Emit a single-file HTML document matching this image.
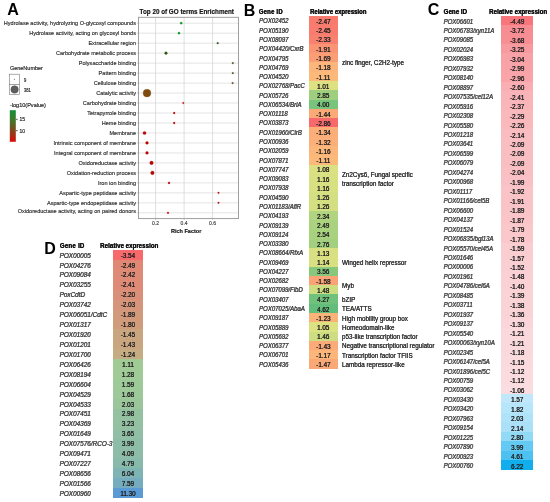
<!DOCTYPE html><html><head><meta charset="utf-8"><style>
html,body{margin:0;padding:0;background:#fff;}
body{width:550px;height:502px;position:relative;overflow:hidden;font-family:"Liberation Sans", sans-serif;filter:blur(0.3px);}
.a{position:absolute;white-space:nowrap;}
.t{-webkit-text-stroke:0.12px currentColor;transform:scaleY(1.08);transform-origin:50% 55%;text-shadow:0.25px 0 0 currentColor;}
.u{-webkit-text-stroke:0.16px currentColor;}
.g{-webkit-text-stroke:0.12px currentColor;text-shadow:0.35px 0 0 currentColor;}
.n{text-shadow:0.12px 0 0 currentColor;}
.lab{position:absolute;font-weight:bold;font-size:16px;line-height:1;color:#000;}
</style></head><body>
<div class="lab" style="left:7.30px;top:1.80px">A</div>
<div class="lab" style="left:243.70px;top:3.25px">B</div>
<div class="lab" style="left:427.80px;top:1.95px">C</div>
<div class="lab" style="left:44.20px;top:240.85px">D</div>
<svg class="a" style="left:0;top:0" width="550" height="502" viewBox="0 0 550 502"><line x1="138.50" y1="23.20" x2="238.50" y2="23.20" stroke="#DDDDDD" stroke-width="0.80"/><line x1="138.50" y1="33.18" x2="238.50" y2="33.18" stroke="#DDDDDD" stroke-width="0.80"/><line x1="138.50" y1="43.16" x2="238.50" y2="43.16" stroke="#DDDDDD" stroke-width="0.80"/><line x1="138.50" y1="53.14" x2="238.50" y2="53.14" stroke="#DDDDDD" stroke-width="0.80"/><line x1="138.50" y1="63.12" x2="238.50" y2="63.12" stroke="#DDDDDD" stroke-width="0.80"/><line x1="138.50" y1="73.10" x2="238.50" y2="73.10" stroke="#DDDDDD" stroke-width="0.80"/><line x1="138.50" y1="83.08" x2="238.50" y2="83.08" stroke="#DDDDDD" stroke-width="0.80"/><line x1="138.50" y1="93.06" x2="238.50" y2="93.06" stroke="#DDDDDD" stroke-width="0.80"/><line x1="138.50" y1="103.04" x2="238.50" y2="103.04" stroke="#DDDDDD" stroke-width="0.80"/><line x1="138.50" y1="113.02" x2="238.50" y2="113.02" stroke="#DDDDDD" stroke-width="0.80"/><line x1="138.50" y1="123.00" x2="238.50" y2="123.00" stroke="#DDDDDD" stroke-width="0.80"/><line x1="138.50" y1="132.98" x2="238.50" y2="132.98" stroke="#DDDDDD" stroke-width="0.80"/><line x1="138.50" y1="142.96" x2="238.50" y2="142.96" stroke="#DDDDDD" stroke-width="0.80"/><line x1="138.50" y1="152.94" x2="238.50" y2="152.94" stroke="#DDDDDD" stroke-width="0.80"/><line x1="138.50" y1="162.92" x2="238.50" y2="162.92" stroke="#DDDDDD" stroke-width="0.80"/><line x1="138.50" y1="172.90" x2="238.50" y2="172.90" stroke="#DDDDDD" stroke-width="0.80"/><line x1="138.50" y1="182.88" x2="238.50" y2="182.88" stroke="#DDDDDD" stroke-width="0.80"/><line x1="138.50" y1="192.86" x2="238.50" y2="192.86" stroke="#DDDDDD" stroke-width="0.80"/><line x1="138.50" y1="202.84" x2="238.50" y2="202.84" stroke="#DDDDDD" stroke-width="0.80"/><line x1="138.50" y1="212.82" x2="238.50" y2="212.82" stroke="#DDDDDD" stroke-width="0.80"/><line x1="155.60" y1="17.30" x2="155.60" y2="218.60" stroke="#D5D5D5" stroke-width="0.80"/><line x1="184.10" y1="17.30" x2="184.10" y2="218.60" stroke="#D5D5D5" stroke-width="0.80"/><line x1="212.60" y1="17.30" x2="212.60" y2="218.60" stroke="#D5D5D5" stroke-width="0.80"/><rect x="138.50" y="17.30" width="100.00" height="201.30" fill="none" stroke="#959595" stroke-width="0.90"/><line x1="136.90" y1="23.20" x2="138.50" y2="23.20" stroke="#999" stroke-width="0.5"/><line x1="136.90" y1="33.18" x2="138.50" y2="33.18" stroke="#999" stroke-width="0.5"/><line x1="136.90" y1="43.16" x2="138.50" y2="43.16" stroke="#999" stroke-width="0.5"/><line x1="136.90" y1="53.14" x2="138.50" y2="53.14" stroke="#999" stroke-width="0.5"/><line x1="136.90" y1="63.12" x2="138.50" y2="63.12" stroke="#999" stroke-width="0.5"/><line x1="136.90" y1="73.10" x2="138.50" y2="73.10" stroke="#999" stroke-width="0.5"/><line x1="136.90" y1="83.08" x2="138.50" y2="83.08" stroke="#999" stroke-width="0.5"/><line x1="136.90" y1="93.06" x2="138.50" y2="93.06" stroke="#999" stroke-width="0.5"/><line x1="136.90" y1="103.04" x2="138.50" y2="103.04" stroke="#999" stroke-width="0.5"/><line x1="136.90" y1="113.02" x2="138.50" y2="113.02" stroke="#999" stroke-width="0.5"/><line x1="136.90" y1="123.00" x2="138.50" y2="123.00" stroke="#999" stroke-width="0.5"/><line x1="136.90" y1="132.98" x2="138.50" y2="132.98" stroke="#999" stroke-width="0.5"/><line x1="136.90" y1="142.96" x2="138.50" y2="142.96" stroke="#999" stroke-width="0.5"/><line x1="136.90" y1="152.94" x2="138.50" y2="152.94" stroke="#999" stroke-width="0.5"/><line x1="136.90" y1="162.92" x2="138.50" y2="162.92" stroke="#999" stroke-width="0.5"/><line x1="136.90" y1="172.90" x2="138.50" y2="172.90" stroke="#999" stroke-width="0.5"/><line x1="136.90" y1="182.88" x2="138.50" y2="182.88" stroke="#999" stroke-width="0.5"/><line x1="136.90" y1="192.86" x2="138.50" y2="192.86" stroke="#999" stroke-width="0.5"/><line x1="136.90" y1="202.84" x2="138.50" y2="202.84" stroke="#999" stroke-width="0.5"/><line x1="136.90" y1="212.82" x2="138.50" y2="212.82" stroke="#999" stroke-width="0.5"/><line x1="155.60" y1="218.60" x2="155.60" y2="220.20" stroke="#999" stroke-width="0.5"/><line x1="184.10" y1="218.60" x2="184.10" y2="220.20" stroke="#999" stroke-width="0.5"/><line x1="212.60" y1="218.60" x2="212.60" y2="220.20" stroke="#999" stroke-width="0.5"/><circle cx="181.20" cy="23.20" r="1.12" fill="#109A2A" stroke="#109A2A" stroke-width="0.3"/><circle cx="179.00" cy="33.18" r="1.12" fill="#109A2A" stroke="#109A2A" stroke-width="0.3"/><circle cx="217.70" cy="43.16" r="0.90" fill="#2E5E12" stroke="#2E5E12" stroke-width="0.3"/><circle cx="166.00" cy="53.14" r="1.35" fill="#2F5A12" stroke="#2F5A12" stroke-width="0.3"/><circle cx="232.80" cy="63.12" r="0.85" fill="#3E5A18" stroke="#3E5A18" stroke-width="0.3"/><circle cx="232.80" cy="73.10" r="0.85" fill="#3E5A18" stroke="#3E5A18" stroke-width="0.3"/><circle cx="232.60" cy="83.08" r="0.85" fill="#6E4A1A" stroke="#6E4A1A" stroke-width="0.3"/><circle cx="147.00" cy="93.06" r="3.90" fill="#7D4B0F" stroke="#7D4B0F" stroke-width="0.3"/><circle cx="183.30" cy="103.04" r="0.80" fill="#B80505" stroke="#B80505" stroke-width="0.3"/><circle cx="174.20" cy="113.02" r="0.95" fill="#B80505" stroke="#B80505" stroke-width="0.3"/><circle cx="174.20" cy="123.00" r="0.95" fill="#B80505" stroke="#B80505" stroke-width="0.3"/><circle cx="144.50" cy="132.98" r="1.60" fill="#B80505" stroke="#B80505" stroke-width="0.3"/><circle cx="147.00" cy="142.96" r="1.40" fill="#B80505" stroke="#B80505" stroke-width="0.3"/><circle cx="147.00" cy="152.94" r="1.40" fill="#B80505" stroke="#B80505" stroke-width="0.3"/><circle cx="151.50" cy="162.92" r="1.80" fill="#B80505" stroke="#B80505" stroke-width="0.3"/><circle cx="152.40" cy="172.90" r="1.80" fill="#B80505" stroke="#B80505" stroke-width="0.3"/><circle cx="169.00" cy="182.88" r="1.00" fill="#B80505" stroke="#B80505" stroke-width="0.3"/><circle cx="218.50" cy="192.86" r="0.80" fill="#B80505" stroke="#B80505" stroke-width="0.3"/><circle cx="218.50" cy="202.84" r="0.80" fill="#B80505" stroke="#B80505" stroke-width="0.3"/><circle cx="168.00" cy="212.82" r="0.90" fill="#B80505" stroke="#B80505" stroke-width="0.3"/><rect x="9.30" y="74.20" width="10.20" height="10.20" fill="#fff" stroke="#777" stroke-width="0.6"/><rect x="9.30" y="84.40" width="10.20" height="10.20" fill="#fff" stroke="#777" stroke-width="0.6"/><circle cx="14.40" cy="79.30" r="0.55" fill="#555"/><circle cx="14.60" cy="89.50" r="3.75" fill="#5E5E5E" stroke="#454545" stroke-width="0.4"/><defs><linearGradient id="cb" x1="0" y1="0" x2="0" y2="1"><stop offset="0.000" stop-color="#14903A"/><stop offset="0.300" stop-color="#3F7A2A"/><stop offset="0.550" stop-color="#6E5522"/><stop offset="0.800" stop-color="#A82E14"/><stop offset="1.000" stop-color="#DC0A0A"/></linearGradient></defs><rect x="9.80" y="110.20" width="6.00" height="31.60" fill="url(#cb)"/><line x1="16.00" y1="119.30" x2="17.60" y2="119.30" stroke="#444" stroke-width="0.9"/><line x1="16.00" y1="130.70" x2="17.60" y2="130.70" stroke="#444" stroke-width="0.9"/></svg>
<div class="a u" style="right:414.00px;top:18.20px;font-size:5.57px;line-height:10.00px;color:#303030">Hydrolase activity, hydrolyzing O-glycosyl compounds</div>
<div class="a u" style="right:414.00px;top:28.18px;font-size:5.57px;line-height:10.00px;color:#303030">Hydrolase activity, acting on glycosyl bonds</div>
<div class="a u" style="right:414.00px;top:38.16px;font-size:5.57px;line-height:10.00px;color:#303030">Extracellular region</div>
<div class="a u" style="right:414.00px;top:48.14px;font-size:5.57px;line-height:10.00px;color:#303030">Carbohydrate metabolic process</div>
<div class="a u" style="right:414.00px;top:58.12px;font-size:5.57px;line-height:10.00px;color:#303030">Polysaccharide binding</div>
<div class="a u" style="right:414.00px;top:68.10px;font-size:5.57px;line-height:10.00px;color:#303030">Pattern binding</div>
<div class="a u" style="right:414.00px;top:78.08px;font-size:5.57px;line-height:10.00px;color:#303030">Cellulose binding</div>
<div class="a u" style="right:414.00px;top:88.06px;font-size:5.57px;line-height:10.00px;color:#303030">Catalytic activity</div>
<div class="a u" style="right:414.00px;top:98.04px;font-size:5.57px;line-height:10.00px;color:#303030">Carbohydrate binding</div>
<div class="a u" style="right:414.00px;top:108.02px;font-size:5.57px;line-height:10.00px;color:#303030">Tetrapyrrole binding</div>
<div class="a u" style="right:414.00px;top:118.00px;font-size:5.57px;line-height:10.00px;color:#303030">Heme binding</div>
<div class="a u" style="right:414.00px;top:127.98px;font-size:5.57px;line-height:10.00px;color:#303030">Membrane</div>
<div class="a u" style="right:414.00px;top:137.96px;font-size:5.57px;line-height:10.00px;color:#303030">Intrinsic component of membrane</div>
<div class="a u" style="right:414.00px;top:147.94px;font-size:5.57px;line-height:10.00px;color:#303030">Integral component of membrane</div>
<div class="a u" style="right:414.00px;top:157.92px;font-size:5.57px;line-height:10.00px;color:#303030">Oxidoreductase activity</div>
<div class="a u" style="right:414.00px;top:167.90px;font-size:5.57px;line-height:10.00px;color:#303030">Oxidation-reduction process</div>
<div class="a u" style="right:414.00px;top:177.88px;font-size:5.57px;line-height:10.00px;color:#303030">Iron ion binding</div>
<div class="a u" style="right:414.00px;top:187.86px;font-size:5.57px;line-height:10.00px;color:#303030">Aspartic-type peptidase activity</div>
<div class="a u" style="right:414.00px;top:197.84px;font-size:5.57px;line-height:10.00px;color:#303030">Aspartic-type endopeptidase activity</div>
<div class="a u" style="right:414.00px;top:206.02px;font-size:5.57px;line-height:10.00px;color:#303030">Oxidoreductase activity, acting on paired donors</div>
<div class="a u" style="left:139.60px;top:9.30px;font-size:6.30px;line-height:1;font-weight:bold;color:#111">Top 20 of GO terms Enrichment</div>
<div class="a u" style="left:145.60px;top:220.90px;width:20px;text-align:center;font-size:5.00px;line-height:1;color:#444">0.2</div>
<div class="a u" style="left:174.10px;top:220.90px;width:20px;text-align:center;font-size:5.00px;line-height:1;color:#444">0.4</div>
<div class="a u" style="left:202.60px;top:220.90px;width:20px;text-align:center;font-size:5.00px;line-height:1;color:#444">0.6</div>
<div class="a u" style="left:156.20px;top:229.30px;width:60px;text-align:center;font-size:5.50px;line-height:1;font-weight:bold;color:#111">Rich Factor</div>
<div class="a u" style="left:9.90px;top:66.10px;font-size:5.50px;line-height:1;color:#222;transform:scaleX(1);transform-origin:0 0">GeneNumber</div>
<div class="a u" style="left:23.60px;top:77.90px;font-size:5.20px;line-height:1;color:#222;transform:scaleX(0.8);transform-origin:0 0">9</div>
<div class="a u" style="left:23.60px;top:87.90px;font-size:5.20px;line-height:1;color:#222;transform:scaleX(0.8);transform-origin:0 0">381</div>
<div class="a u" style="left:9.90px;top:102.50px;font-size:5.55px;line-height:1;color:#222;transform:scaleX(1);transform-origin:0 0">-log10(Pvalue)</div>
<div class="a u" style="left:19.40px;top:117.30px;font-size:5.00px;line-height:1;color:#222;transform:scaleX(1);transform-origin:0 0">15</div>
<div class="a u" style="left:19.40px;top:128.70px;font-size:5.00px;line-height:1;color:#222;transform:scaleX(1);transform-origin:0 0">10</div>
<div class="a t" style="left:258.70px;top:8.85px;font-size:6.00px;line-height:1;font-weight:bold;color:#111;letter-spacing:0.2px">Gene ID</div>
<div class="a t" style="left:310.00px;top:8.85px;font-size:6.00px;line-height:1;font-weight:bold;color:#111">Relative expression</div>
<div class="a" style="left:308.70px;top:16.05px;width:29.10px;height:9.88px;background:#F97B6E"></div>
<div class="a" style="left:308.70px;top:25.33px;width:29.10px;height:9.88px;background:#F97C6F"></div>
<div class="a" style="left:308.70px;top:34.61px;width:29.10px;height:9.88px;background:#F98170"></div>
<div class="a" style="left:308.70px;top:43.88px;width:29.10px;height:9.88px;background:#FA9473"></div>
<div class="a" style="left:308.70px;top:53.16px;width:29.10px;height:9.88px;background:#FB9E75"></div>
<div class="a" style="left:308.70px;top:62.44px;width:29.10px;height:9.88px;background:#FCB57A"></div>
<div class="a" style="left:308.70px;top:71.72px;width:29.10px;height:9.88px;background:#FCB97A"></div>
<div class="a" style="left:308.70px;top:81.00px;width:29.10px;height:9.88px;background:#DDE182"></div>
<div class="a" style="left:308.70px;top:90.27px;width:29.10px;height:9.88px;background:#9FCF7E"></div>
<div class="a" style="left:308.70px;top:99.55px;width:29.10px;height:9.88px;background:#78C47C"></div>
<div class="a" style="left:308.70px;top:108.83px;width:29.10px;height:9.88px;background:#FBAA77"></div>
<div class="a" style="left:308.70px;top:118.11px;width:29.10px;height:9.88px;background:#F8696B"></div>
<div class="a" style="left:308.70px;top:127.39px;width:29.10px;height:9.88px;background:#FCAE78"></div>
<div class="a" style="left:308.70px;top:136.66px;width:29.10px;height:9.88px;background:#FCAF78"></div>
<div class="a" style="left:308.70px;top:145.94px;width:29.10px;height:9.88px;background:#FCB67A"></div>
<div class="a" style="left:308.70px;top:155.22px;width:29.10px;height:9.88px;background:#FCB97A"></div>
<div class="a" style="left:308.70px;top:164.50px;width:29.10px;height:9.88px;background:#DBE082"></div>
<div class="a" style="left:308.70px;top:173.78px;width:29.10px;height:9.88px;background:#D8E082"></div>
<div class="a" style="left:308.70px;top:183.05px;width:29.10px;height:9.88px;background:#D8E082"></div>
<div class="a" style="left:308.70px;top:192.33px;width:29.10px;height:9.88px;background:#D4DF82"></div>
<div class="a" style="left:308.70px;top:201.61px;width:29.10px;height:9.88px;background:#D4DF82"></div>
<div class="a" style="left:308.70px;top:210.89px;width:29.10px;height:9.88px;background:#B0D47F"></div>
<div class="a" style="left:308.70px;top:220.17px;width:29.10px;height:9.88px;background:#ABD37F"></div>
<div class="a" style="left:308.70px;top:229.44px;width:29.10px;height:9.88px;background:#A9D27F"></div>
<div class="a" style="left:308.70px;top:238.72px;width:29.10px;height:9.88px;background:#A2D07F"></div>
<div class="a" style="left:308.70px;top:248.00px;width:29.10px;height:9.88px;background:#D9E082"></div>
<div class="a" style="left:308.70px;top:257.28px;width:29.10px;height:9.88px;background:#D9E082"></div>
<div class="a" style="left:308.70px;top:266.56px;width:29.10px;height:9.88px;background:#87C87D"></div>
<div class="a" style="left:308.70px;top:275.83px;width:29.10px;height:9.88px;background:#FBA376"></div>
<div class="a" style="left:308.70px;top:285.11px;width:29.10px;height:9.88px;background:#CDDD81"></div>
<div class="a" style="left:308.70px;top:294.39px;width:29.10px;height:9.88px;background:#6FC17C"></div>
<div class="a" style="left:308.70px;top:303.67px;width:29.10px;height:9.88px;background:#63BE7B"></div>
<div class="a" style="left:308.70px;top:312.95px;width:29.10px;height:9.88px;background:#FCB379"></div>
<div class="a" style="left:308.70px;top:322.22px;width:29.10px;height:9.88px;background:#DCE182"></div>
<div class="a" style="left:308.70px;top:331.50px;width:29.10px;height:9.88px;background:#CEDD81"></div>
<div class="a" style="left:308.70px;top:340.78px;width:29.10px;height:9.88px;background:#FCAA78"></div>
<div class="a" style="left:308.70px;top:350.06px;width:29.10px;height:9.88px;background:#FCB67A"></div>
<div class="a" style="left:308.70px;top:359.34px;width:29.10px;height:9.28px;background:#FBA877"></div>
<div class="a t g" style="left:259.00px;top:17.40px;height:9.28px;line-height:9.28px;font-size:6.00px;font-style:italic;color:#444444">POX02452</div>
<div class="a t" style="left:308.70px;top:16.90px;width:29.10px;height:9.28px;line-height:9.28px;font-size:6.30px;text-align:center;color:#262626">-2.47</div>
<div class="a t g" style="left:259.00px;top:26.68px;height:9.28px;line-height:9.28px;font-size:6.00px;font-style:italic;color:#444444">POX05190</div>
<div class="a t" style="left:308.70px;top:26.18px;width:29.10px;height:9.28px;line-height:9.28px;font-size:6.30px;text-align:center;color:#262626">-2.45</div>
<div class="a t g" style="left:259.00px;top:35.96px;height:9.28px;line-height:9.28px;font-size:6.00px;font-style:italic;color:#444444">POX08097</div>
<div class="a t" style="left:308.70px;top:35.46px;width:29.10px;height:9.28px;line-height:9.28px;font-size:6.30px;text-align:center;color:#262626">-2.33</div>
<div class="a t g" style="left:259.00px;top:45.23px;height:9.28px;line-height:9.28px;font-size:6.00px;font-style:italic;color:#444444">POX04420/CxrB</div>
<div class="a t" style="left:308.70px;top:44.73px;width:29.10px;height:9.28px;line-height:9.28px;font-size:6.30px;text-align:center;color:#262626">-1.91</div>
<div class="a t g" style="left:259.00px;top:54.51px;height:9.28px;line-height:9.28px;font-size:6.00px;font-style:italic;color:#444444">POX04795</div>
<div class="a t" style="left:308.70px;top:54.01px;width:29.10px;height:9.28px;line-height:9.28px;font-size:6.30px;text-align:center;color:#262626">-1.69</div>
<div class="a t g" style="left:259.00px;top:63.79px;height:9.28px;line-height:9.28px;font-size:6.00px;font-style:italic;color:#444444">POX04769</div>
<div class="a t" style="left:308.70px;top:63.29px;width:29.10px;height:9.28px;line-height:9.28px;font-size:6.30px;text-align:center;color:#262626">-1.18</div>
<div class="a t g" style="left:259.00px;top:73.07px;height:9.28px;line-height:9.28px;font-size:6.00px;font-style:italic;color:#444444">POX04520</div>
<div class="a t" style="left:308.70px;top:72.57px;width:29.10px;height:9.28px;line-height:9.28px;font-size:6.30px;text-align:center;color:#262626">-1.11</div>
<div class="a t g" style="left:259.00px;top:82.35px;height:9.28px;line-height:9.28px;font-size:6.00px;font-style:italic;color:#444444">POX02768/PacC</div>
<div class="a t" style="left:308.70px;top:81.85px;width:29.10px;height:9.28px;line-height:9.28px;font-size:6.30px;text-align:center;color:#262626">1.01</div>
<div class="a t g" style="left:259.00px;top:91.62px;height:9.28px;line-height:9.28px;font-size:6.00px;font-style:italic;color:#444444">POX05726</div>
<div class="a t" style="left:308.70px;top:91.12px;width:29.10px;height:9.28px;line-height:9.28px;font-size:6.30px;text-align:center;color:#262626">2.85</div>
<div class="a t g" style="left:259.00px;top:100.90px;height:9.28px;line-height:9.28px;font-size:6.00px;font-style:italic;color:#444444">POX06534/BrlA</div>
<div class="a t" style="left:308.70px;top:100.40px;width:29.10px;height:9.28px;line-height:9.28px;font-size:6.30px;text-align:center;color:#262626">4.00</div>
<div class="a t g" style="left:259.00px;top:110.18px;height:9.28px;line-height:9.28px;font-size:6.00px;font-style:italic;color:#444444">POX01118</div>
<div class="a t" style="left:308.70px;top:109.68px;width:29.10px;height:9.28px;line-height:9.28px;font-size:6.30px;text-align:center;color:#262626">-1.44</div>
<div class="a t g" style="left:259.00px;top:119.46px;height:9.28px;line-height:9.28px;font-size:6.00px;font-style:italic;color:#444444">POX03873</div>
<div class="a t" style="left:308.70px;top:118.96px;width:29.10px;height:9.28px;line-height:9.28px;font-size:6.30px;text-align:center;color:#262626">-2.86</div>
<div class="a t g" style="left:259.00px;top:128.74px;height:9.28px;line-height:9.28px;font-size:6.00px;font-style:italic;color:#444444">POX01960/ClrB</div>
<div class="a t" style="left:308.70px;top:128.24px;width:29.10px;height:9.28px;line-height:9.28px;font-size:6.30px;text-align:center;color:#262626">-1.34</div>
<div class="a t g" style="left:259.00px;top:138.01px;height:9.28px;line-height:9.28px;font-size:6.00px;font-style:italic;color:#444444">POX00936</div>
<div class="a t" style="left:308.70px;top:137.51px;width:29.10px;height:9.28px;line-height:9.28px;font-size:6.30px;text-align:center;color:#262626">-1.32</div>
<div class="a t g" style="left:259.00px;top:147.29px;height:9.28px;line-height:9.28px;font-size:6.00px;font-style:italic;color:#444444">POX02059</div>
<div class="a t" style="left:308.70px;top:146.79px;width:29.10px;height:9.28px;line-height:9.28px;font-size:6.30px;text-align:center;color:#262626">-1.16</div>
<div class="a t g" style="left:259.00px;top:156.57px;height:9.28px;line-height:9.28px;font-size:6.00px;font-style:italic;color:#444444">POX07871</div>
<div class="a t" style="left:308.70px;top:156.07px;width:29.10px;height:9.28px;line-height:9.28px;font-size:6.30px;text-align:center;color:#262626">-1.11</div>
<div class="a t g" style="left:259.00px;top:165.85px;height:9.28px;line-height:9.28px;font-size:6.00px;font-style:italic;color:#444444">POX07747</div>
<div class="a t" style="left:308.70px;top:165.35px;width:29.10px;height:9.28px;line-height:9.28px;font-size:6.30px;text-align:center;color:#262626">1.08</div>
<div class="a t g" style="left:259.00px;top:175.13px;height:9.28px;line-height:9.28px;font-size:6.00px;font-style:italic;color:#444444">POX09083</div>
<div class="a t" style="left:308.70px;top:174.63px;width:29.10px;height:9.28px;line-height:9.28px;font-size:6.30px;text-align:center;color:#262626">1.16</div>
<div class="a t g" style="left:259.00px;top:184.40px;height:9.28px;line-height:9.28px;font-size:6.00px;font-style:italic;color:#444444">POX07938</div>
<div class="a t" style="left:308.70px;top:183.90px;width:29.10px;height:9.28px;line-height:9.28px;font-size:6.30px;text-align:center;color:#262626">1.16</div>
<div class="a t g" style="left:259.00px;top:193.68px;height:9.28px;line-height:9.28px;font-size:6.00px;font-style:italic;color:#444444">POX04590</div>
<div class="a t" style="left:308.70px;top:193.18px;width:29.10px;height:9.28px;line-height:9.28px;font-size:6.30px;text-align:center;color:#262626">1.26</div>
<div class="a t g" style="left:259.00px;top:202.96px;height:9.28px;line-height:9.28px;font-size:6.00px;font-style:italic;color:#444444">POX01183/AflR</div>
<div class="a t" style="left:308.70px;top:202.46px;width:29.10px;height:9.28px;line-height:9.28px;font-size:6.30px;text-align:center;color:#262626">1.26</div>
<div class="a t g" style="left:259.00px;top:212.24px;height:9.28px;line-height:9.28px;font-size:6.00px;font-style:italic;color:#444444">POX04193</div>
<div class="a t" style="left:308.70px;top:211.74px;width:29.10px;height:9.28px;line-height:9.28px;font-size:6.30px;text-align:center;color:#262626">2.34</div>
<div class="a t g" style="left:259.00px;top:221.52px;height:9.28px;line-height:9.28px;font-size:6.00px;font-style:italic;color:#444444">POX09139</div>
<div class="a t" style="left:308.70px;top:221.02px;width:29.10px;height:9.28px;line-height:9.28px;font-size:6.30px;text-align:center;color:#262626">2.49</div>
<div class="a t g" style="left:259.00px;top:230.79px;height:9.28px;line-height:9.28px;font-size:6.00px;font-style:italic;color:#444444">POX09124</div>
<div class="a t" style="left:308.70px;top:230.29px;width:29.10px;height:9.28px;line-height:9.28px;font-size:6.30px;text-align:center;color:#262626">2.54</div>
<div class="a t g" style="left:259.00px;top:240.07px;height:9.28px;line-height:9.28px;font-size:6.00px;font-style:italic;color:#444444">POX03380</div>
<div class="a t" style="left:308.70px;top:239.57px;width:29.10px;height:9.28px;line-height:9.28px;font-size:6.30px;text-align:center;color:#262626">2.76</div>
<div class="a t g" style="left:259.00px;top:249.35px;height:9.28px;line-height:9.28px;font-size:6.00px;font-style:italic;color:#444444">POX08664/RfxA</div>
<div class="a t" style="left:308.70px;top:248.85px;width:29.10px;height:9.28px;line-height:9.28px;font-size:6.30px;text-align:center;color:#262626">1.13</div>
<div class="a t g" style="left:259.00px;top:258.63px;height:9.28px;line-height:9.28px;font-size:6.00px;font-style:italic;color:#444444">POX09469</div>
<div class="a t" style="left:308.70px;top:258.13px;width:29.10px;height:9.28px;line-height:9.28px;font-size:6.30px;text-align:center;color:#262626">1.14</div>
<div class="a t g" style="left:259.00px;top:267.91px;height:9.28px;line-height:9.28px;font-size:6.00px;font-style:italic;color:#444444">POX04227</div>
<div class="a t" style="left:308.70px;top:267.41px;width:29.10px;height:9.28px;line-height:9.28px;font-size:6.30px;text-align:center;color:#262626">3.56</div>
<div class="a t g" style="left:259.00px;top:277.18px;height:9.28px;line-height:9.28px;font-size:6.00px;font-style:italic;color:#444444">POX02682</div>
<div class="a t" style="left:308.70px;top:276.68px;width:29.10px;height:9.28px;line-height:9.28px;font-size:6.30px;text-align:center;color:#262626">-1.58</div>
<div class="a t g" style="left:259.00px;top:286.46px;height:9.28px;line-height:9.28px;font-size:6.00px;font-style:italic;color:#444444">POX07099/FlbD</div>
<div class="a t" style="left:308.70px;top:285.96px;width:29.10px;height:9.28px;line-height:9.28px;font-size:6.30px;text-align:center;color:#262626">1.48</div>
<div class="a t g" style="left:259.00px;top:295.74px;height:9.28px;line-height:9.28px;font-size:6.00px;font-style:italic;color:#444444">POX03407</div>
<div class="a t" style="left:308.70px;top:295.24px;width:29.10px;height:9.28px;line-height:9.28px;font-size:6.30px;text-align:center;color:#262626">4.27</div>
<div class="a t g" style="left:259.00px;top:305.02px;height:9.28px;line-height:9.28px;font-size:6.00px;font-style:italic;color:#444444">POX07025/AbaA</div>
<div class="a t" style="left:308.70px;top:304.52px;width:29.10px;height:9.28px;line-height:9.28px;font-size:6.30px;text-align:center;color:#262626">4.62</div>
<div class="a t g" style="left:259.00px;top:314.30px;height:9.28px;line-height:9.28px;font-size:6.00px;font-style:italic;color:#444444">POX09187</div>
<div class="a t" style="left:308.70px;top:313.80px;width:29.10px;height:9.28px;line-height:9.28px;font-size:6.30px;text-align:center;color:#262626">-1.23</div>
<div class="a t g" style="left:259.00px;top:323.57px;height:9.28px;line-height:9.28px;font-size:6.00px;font-style:italic;color:#444444">POX05889</div>
<div class="a t" style="left:308.70px;top:323.07px;width:29.10px;height:9.28px;line-height:9.28px;font-size:6.30px;text-align:center;color:#262626">1.05</div>
<div class="a t g" style="left:259.00px;top:332.85px;height:9.28px;line-height:9.28px;font-size:6.00px;font-style:italic;color:#444444">POX05692</div>
<div class="a t" style="left:308.70px;top:332.35px;width:29.10px;height:9.28px;line-height:9.28px;font-size:6.30px;text-align:center;color:#262626">1.46</div>
<div class="a t g" style="left:259.00px;top:342.13px;height:9.28px;line-height:9.28px;font-size:6.00px;font-style:italic;color:#444444">POX06377</div>
<div class="a t" style="left:308.70px;top:341.63px;width:29.10px;height:9.28px;line-height:9.28px;font-size:6.30px;text-align:center;color:#262626">-1.43</div>
<div class="a t g" style="left:259.00px;top:351.41px;height:9.28px;line-height:9.28px;font-size:6.00px;font-style:italic;color:#444444">POX06701</div>
<div class="a t" style="left:308.70px;top:350.91px;width:29.10px;height:9.28px;line-height:9.28px;font-size:6.30px;text-align:center;color:#262626">-1.17</div>
<div class="a t g" style="left:259.00px;top:360.69px;height:9.28px;line-height:9.28px;font-size:6.00px;font-style:italic;color:#444444">POX05436</div>
<div class="a t" style="left:308.70px;top:360.19px;width:29.10px;height:9.28px;line-height:9.28px;font-size:6.30px;text-align:center;color:#262626">-1.47</div>
<div class="a t n" style="left:342.00px;top:59.39px;height:8.80px;line-height:8.80px;font-size:6.30px;color:#333333">zinc finger, C2H2-type</div>
<div class="a t n" style="left:342.00px;top:170.97px;height:8.80px;line-height:8.80px;font-size:6.30px;color:#333333">Zn2Cys6, Fungal specific</div>
<div class="a t n" style="left:342.00px;top:179.77px;height:8.80px;line-height:8.80px;font-size:6.30px;color:#333333">transcription factor</div>
<div class="a t n" style="left:342.00px;top:258.87px;height:8.80px;line-height:8.80px;font-size:6.30px;color:#333333">Winged helix repressor</div>
<div class="a t n" style="left:342.00px;top:282.06px;height:8.80px;line-height:8.80px;font-size:6.30px;color:#333333">Myb</div>
<div class="a t n" style="left:342.00px;top:295.98px;height:8.80px;line-height:8.80px;font-size:6.30px;color:#333333">bZIP</div>
<div class="a t n" style="left:342.00px;top:305.26px;height:8.80px;line-height:8.80px;font-size:6.30px;color:#333333">TEA/ATTS</div>
<div class="a t n" style="left:342.00px;top:314.54px;height:8.80px;line-height:8.80px;font-size:6.30px;color:#333333">High mobility group box</div>
<div class="a t n" style="left:342.00px;top:323.81px;height:8.80px;line-height:8.80px;font-size:6.30px;color:#333333">Homeodomain-like</div>
<div class="a t n" style="left:342.00px;top:333.09px;height:8.80px;line-height:8.80px;font-size:6.30px;color:#333333">p53-like transcription factor</div>
<div class="a t n" style="left:342.00px;top:342.37px;height:8.80px;line-height:8.80px;font-size:6.30px;color:#333333">Negative transcriptional regulator</div>
<div class="a t n" style="left:342.00px;top:351.65px;height:8.80px;line-height:8.80px;font-size:6.30px;color:#333333">Transcription factor TFIIS</div>
<div class="a t n" style="left:342.00px;top:360.93px;height:8.80px;line-height:8.80px;font-size:6.30px;color:#333333">Lambda repressor-like</div>
<div class="a t" style="left:443.60px;top:8.70px;font-size:6.20px;line-height:1;font-weight:bold;color:#111;letter-spacing:0px">Gene ID</div>
<div class="a t" style="left:489.00px;top:8.70px;font-size:6.20px;line-height:1;font-weight:bold;color:#111">Relative expression</div>
<div class="a" style="left:501.00px;top:15.50px;width:32.30px;height:10.06px;background:#F6767C"></div>
<div class="a" style="left:501.00px;top:24.96px;width:32.30px;height:10.06px;background:#F78D92"></div>
<div class="a" style="left:501.00px;top:34.42px;width:32.30px;height:10.06px;background:#F78E94"></div>
<div class="a" style="left:501.00px;top:43.88px;width:32.30px;height:10.06px;background:#F89BA0"></div>
<div class="a" style="left:501.00px;top:53.34px;width:32.30px;height:10.06px;background:#F8A1A6"></div>
<div class="a" style="left:501.00px;top:62.80px;width:32.30px;height:10.06px;background:#F8A3A8"></div>
<div class="a" style="left:501.00px;top:72.26px;width:32.30px;height:10.06px;background:#F8A4A9"></div>
<div class="a" style="left:501.00px;top:81.72px;width:32.30px;height:10.06px;background:#F9AEB3"></div>
<div class="a" style="left:501.00px;top:91.18px;width:32.30px;height:10.06px;background:#F9B4B9"></div>
<div class="a" style="left:501.00px;top:100.64px;width:32.30px;height:10.06px;background:#F9B5BA"></div>
<div class="a" style="left:501.00px;top:110.10px;width:32.30px;height:10.06px;background:#F9B8BC"></div>
<div class="a" style="left:501.00px;top:119.56px;width:32.30px;height:10.06px;background:#F9B9BD"></div>
<div class="a" style="left:501.00px;top:129.02px;width:32.30px;height:10.06px;background:#F9BCC1"></div>
<div class="a" style="left:501.00px;top:138.48px;width:32.30px;height:10.06px;background:#F9BEC2"></div>
<div class="a" style="left:501.00px;top:147.94px;width:32.30px;height:10.06px;background:#F9BEC2"></div>
<div class="a" style="left:501.00px;top:157.40px;width:32.30px;height:10.06px;background:#F9BEC2"></div>
<div class="a" style="left:501.00px;top:166.86px;width:32.30px;height:10.06px;background:#F9BFC3"></div>
<div class="a" style="left:501.00px;top:176.32px;width:32.30px;height:10.06px;background:#F9C1C5"></div>
<div class="a" style="left:501.00px;top:185.78px;width:32.30px;height:10.06px;background:#F9C3C7"></div>
<div class="a" style="left:501.00px;top:195.24px;width:32.30px;height:10.06px;background:#F9C3C7"></div>
<div class="a" style="left:501.00px;top:204.70px;width:32.30px;height:10.06px;background:#F9C4C8"></div>
<div class="a" style="left:501.00px;top:214.16px;width:32.30px;height:10.06px;background:#FAC4C8"></div>
<div class="a" style="left:501.00px;top:223.62px;width:32.30px;height:10.06px;background:#FAC7CB"></div>
<div class="a" style="left:501.00px;top:233.08px;width:32.30px;height:10.06px;background:#FAC7CB"></div>
<div class="a" style="left:501.00px;top:242.54px;width:32.30px;height:10.06px;background:#FACDD1"></div>
<div class="a" style="left:501.00px;top:252.00px;width:32.30px;height:10.06px;background:#FACDD1"></div>
<div class="a" style="left:501.00px;top:261.46px;width:32.30px;height:10.06px;background:#FACFD3"></div>
<div class="a" style="left:501.00px;top:270.92px;width:32.30px;height:10.06px;background:#FAD0D4"></div>
<div class="a" style="left:501.00px;top:280.38px;width:32.30px;height:10.06px;background:#FAD2D6"></div>
<div class="a" style="left:501.00px;top:289.84px;width:32.30px;height:10.06px;background:#FAD3D6"></div>
<div class="a" style="left:501.00px;top:299.30px;width:32.30px;height:10.06px;background:#FAD3D7"></div>
<div class="a" style="left:501.00px;top:308.76px;width:32.30px;height:10.06px;background:#FAD3D7"></div>
<div class="a" style="left:501.00px;top:318.22px;width:32.30px;height:10.06px;background:#FAD5D9"></div>
<div class="a" style="left:501.00px;top:327.68px;width:32.30px;height:10.06px;background:#FAD8DC"></div>
<div class="a" style="left:501.00px;top:337.14px;width:32.30px;height:10.06px;background:#FAD8DC"></div>
<div class="a" style="left:501.00px;top:346.60px;width:32.30px;height:10.06px;background:#FAD9DD"></div>
<div class="a" style="left:501.00px;top:356.06px;width:32.30px;height:10.06px;background:#FADADD"></div>
<div class="a" style="left:501.00px;top:365.52px;width:32.30px;height:10.06px;background:#FBDBDE"></div>
<div class="a" style="left:501.00px;top:374.98px;width:32.30px;height:10.06px;background:#FBDBDE"></div>
<div class="a" style="left:501.00px;top:384.44px;width:32.30px;height:10.06px;background:#FBDCE0"></div>
<div class="a" style="left:501.00px;top:393.90px;width:32.30px;height:10.06px;background:#C0E8FA"></div>
<div class="a" style="left:501.00px;top:403.36px;width:32.30px;height:10.06px;background:#B7E5F9"></div>
<div class="a" style="left:501.00px;top:412.82px;width:32.30px;height:10.06px;background:#AFE3F9"></div>
<div class="a" style="left:501.00px;top:422.28px;width:32.30px;height:10.06px;background:#ABE1F8"></div>
<div class="a" style="left:501.00px;top:431.74px;width:32.30px;height:10.06px;background:#92D9F6"></div>
<div class="a" style="left:501.00px;top:441.20px;width:32.30px;height:10.06px;background:#65CAF3"></div>
<div class="a" style="left:501.00px;top:450.66px;width:32.30px;height:10.06px;background:#4DC2F1"></div>
<div class="a" style="left:501.00px;top:460.12px;width:32.30px;height:9.46px;background:#10AEEC"></div>
<div class="a t g" style="left:443.60px;top:17.50px;height:9.46px;line-height:9.46px;font-size:6.00px;font-style:italic;color:#444444">POX06601</div>
<div class="a t" style="left:501.00px;top:17.00px;width:32.30px;height:9.46px;line-height:9.46px;font-size:6.30px;text-align:center;color:#262626">-4.49</div>
<div class="a t g" style="left:443.60px;top:26.96px;height:9.46px;line-height:9.46px;font-size:6.00px;font-style:italic;color:#444444">POX06783/xyn11A</div>
<div class="a t" style="left:501.00px;top:26.46px;width:32.30px;height:9.46px;line-height:9.46px;font-size:6.30px;text-align:center;color:#262626">-3.72</div>
<div class="a t g" style="left:443.60px;top:36.42px;height:9.46px;line-height:9.46px;font-size:6.00px;font-style:italic;color:#444444">POX09085</div>
<div class="a t" style="left:501.00px;top:35.92px;width:32.30px;height:9.46px;line-height:9.46px;font-size:6.30px;text-align:center;color:#262626">-3.68</div>
<div class="a t g" style="left:443.60px;top:45.88px;height:9.46px;line-height:9.46px;font-size:6.00px;font-style:italic;color:#444444">POX02024</div>
<div class="a t" style="left:501.00px;top:45.38px;width:32.30px;height:9.46px;line-height:9.46px;font-size:6.30px;text-align:center;color:#262626">-3.25</div>
<div class="a t g" style="left:443.60px;top:55.34px;height:9.46px;line-height:9.46px;font-size:6.00px;font-style:italic;color:#444444">POX06983</div>
<div class="a t" style="left:501.00px;top:54.84px;width:32.30px;height:9.46px;line-height:9.46px;font-size:6.30px;text-align:center;color:#262626">-3.04</div>
<div class="a t g" style="left:443.60px;top:64.80px;height:9.46px;line-height:9.46px;font-size:6.00px;font-style:italic;color:#444444">POX07932</div>
<div class="a t" style="left:501.00px;top:64.30px;width:32.30px;height:9.46px;line-height:9.46px;font-size:6.30px;text-align:center;color:#262626">-2.99</div>
<div class="a t g" style="left:443.60px;top:74.26px;height:9.46px;line-height:9.46px;font-size:6.00px;font-style:italic;color:#444444">POX08140</div>
<div class="a t" style="left:501.00px;top:73.76px;width:32.30px;height:9.46px;line-height:9.46px;font-size:6.30px;text-align:center;color:#262626">-2.96</div>
<div class="a t g" style="left:443.60px;top:83.72px;height:9.46px;line-height:9.46px;font-size:6.00px;font-style:italic;color:#444444">POX08897</div>
<div class="a t" style="left:501.00px;top:83.22px;width:32.30px;height:9.46px;line-height:9.46px;font-size:6.30px;text-align:center;color:#262626">-2.60</div>
<div class="a t g" style="left:443.60px;top:93.18px;height:9.46px;line-height:9.46px;font-size:6.00px;font-style:italic;color:#444444">POX07535/cel12A</div>
<div class="a t" style="left:501.00px;top:92.68px;width:32.30px;height:9.46px;line-height:9.46px;font-size:6.30px;text-align:center;color:#262626">-2.41</div>
<div class="a t g" style="left:443.60px;top:102.64px;height:9.46px;line-height:9.46px;font-size:6.00px;font-style:italic;color:#444444">POX05916</div>
<div class="a t" style="left:501.00px;top:102.14px;width:32.30px;height:9.46px;line-height:9.46px;font-size:6.30px;text-align:center;color:#262626">-2.37</div>
<div class="a t g" style="left:443.60px;top:112.10px;height:9.46px;line-height:9.46px;font-size:6.00px;font-style:italic;color:#444444">POX02308</div>
<div class="a t" style="left:501.00px;top:111.60px;width:32.30px;height:9.46px;line-height:9.46px;font-size:6.30px;text-align:center;color:#262626">-2.29</div>
<div class="a t g" style="left:443.60px;top:121.56px;height:9.46px;line-height:9.46px;font-size:6.00px;font-style:italic;color:#444444">POX05580</div>
<div class="a t" style="left:501.00px;top:121.06px;width:32.30px;height:9.46px;line-height:9.46px;font-size:6.30px;text-align:center;color:#262626">-2.26</div>
<div class="a t g" style="left:443.60px;top:131.02px;height:9.46px;line-height:9.46px;font-size:6.00px;font-style:italic;color:#444444">POX01218</div>
<div class="a t" style="left:501.00px;top:130.52px;width:32.30px;height:9.46px;line-height:9.46px;font-size:6.30px;text-align:center;color:#262626">-2.14</div>
<div class="a t g" style="left:443.60px;top:140.48px;height:9.46px;line-height:9.46px;font-size:6.00px;font-style:italic;color:#444444">POX03641</div>
<div class="a t" style="left:501.00px;top:139.98px;width:32.30px;height:9.46px;line-height:9.46px;font-size:6.30px;text-align:center;color:#262626">-2.09</div>
<div class="a t g" style="left:443.60px;top:149.94px;height:9.46px;line-height:9.46px;font-size:6.00px;font-style:italic;color:#444444">POX06599</div>
<div class="a t" style="left:501.00px;top:149.44px;width:32.30px;height:9.46px;line-height:9.46px;font-size:6.30px;text-align:center;color:#262626">-2.09</div>
<div class="a t g" style="left:443.60px;top:159.40px;height:9.46px;line-height:9.46px;font-size:6.00px;font-style:italic;color:#444444">POX06079</div>
<div class="a t" style="left:501.00px;top:158.90px;width:32.30px;height:9.46px;line-height:9.46px;font-size:6.30px;text-align:center;color:#262626">-2.09</div>
<div class="a t g" style="left:443.60px;top:168.86px;height:9.46px;line-height:9.46px;font-size:6.00px;font-style:italic;color:#444444">POX04274</div>
<div class="a t" style="left:501.00px;top:168.36px;width:32.30px;height:9.46px;line-height:9.46px;font-size:6.30px;text-align:center;color:#262626">-2.04</div>
<div class="a t g" style="left:443.60px;top:178.32px;height:9.46px;line-height:9.46px;font-size:6.00px;font-style:italic;color:#444444">POX00968</div>
<div class="a t" style="left:501.00px;top:177.82px;width:32.30px;height:9.46px;line-height:9.46px;font-size:6.30px;text-align:center;color:#262626">-1.99</div>
<div class="a t g" style="left:443.60px;top:187.78px;height:9.46px;line-height:9.46px;font-size:6.00px;font-style:italic;color:#444444">POX01117</div>
<div class="a t" style="left:501.00px;top:187.28px;width:32.30px;height:9.46px;line-height:9.46px;font-size:6.30px;text-align:center;color:#262626">-1.92</div>
<div class="a t g" style="left:443.60px;top:197.24px;height:9.46px;line-height:9.46px;font-size:6.00px;font-style:italic;color:#444444">POX01166/cel5B</div>
<div class="a t" style="left:501.00px;top:196.74px;width:32.30px;height:9.46px;line-height:9.46px;font-size:6.30px;text-align:center;color:#262626">-1.91</div>
<div class="a t g" style="left:443.60px;top:206.70px;height:9.46px;line-height:9.46px;font-size:6.00px;font-style:italic;color:#444444">POX06600</div>
<div class="a t" style="left:501.00px;top:206.20px;width:32.30px;height:9.46px;line-height:9.46px;font-size:6.30px;text-align:center;color:#262626">-1.89</div>
<div class="a t g" style="left:443.60px;top:216.16px;height:9.46px;line-height:9.46px;font-size:6.00px;font-style:italic;color:#444444">POX04137</div>
<div class="a t" style="left:501.00px;top:215.66px;width:32.30px;height:9.46px;line-height:9.46px;font-size:6.30px;text-align:center;color:#262626">-1.87</div>
<div class="a t g" style="left:443.60px;top:225.62px;height:9.46px;line-height:9.46px;font-size:6.00px;font-style:italic;color:#444444">POX01524</div>
<div class="a t" style="left:501.00px;top:225.12px;width:32.30px;height:9.46px;line-height:9.46px;font-size:6.30px;text-align:center;color:#262626">-1.79</div>
<div class="a t g" style="left:443.60px;top:235.08px;height:9.46px;line-height:9.46px;font-size:6.00px;font-style:italic;color:#444444">POX06835/bgl13A</div>
<div class="a t" style="left:501.00px;top:234.58px;width:32.30px;height:9.46px;line-height:9.46px;font-size:6.30px;text-align:center;color:#262626">-1.78</div>
<div class="a t g" style="left:443.60px;top:244.54px;height:9.46px;line-height:9.46px;font-size:6.00px;font-style:italic;color:#444444">POX05570/cel45A</div>
<div class="a t" style="left:501.00px;top:244.04px;width:32.30px;height:9.46px;line-height:9.46px;font-size:6.30px;text-align:center;color:#262626">-1.59</div>
<div class="a t g" style="left:443.60px;top:254.00px;height:9.46px;line-height:9.46px;font-size:6.00px;font-style:italic;color:#444444">POX01646</div>
<div class="a t" style="left:501.00px;top:253.50px;width:32.30px;height:9.46px;line-height:9.46px;font-size:6.30px;text-align:center;color:#262626">-1.57</div>
<div class="a t g" style="left:443.60px;top:263.46px;height:9.46px;line-height:9.46px;font-size:6.00px;font-style:italic;color:#444444">POX00006</div>
<div class="a t" style="left:501.00px;top:262.96px;width:32.30px;height:9.46px;line-height:9.46px;font-size:6.30px;text-align:center;color:#262626">-1.52</div>
<div class="a t g" style="left:443.60px;top:272.92px;height:9.46px;line-height:9.46px;font-size:6.00px;font-style:italic;color:#444444">POX01961</div>
<div class="a t" style="left:501.00px;top:272.42px;width:32.30px;height:9.46px;line-height:9.46px;font-size:6.30px;text-align:center;color:#262626">-1.48</div>
<div class="a t g" style="left:443.60px;top:282.38px;height:9.46px;line-height:9.46px;font-size:6.00px;font-style:italic;color:#444444">POX04786/cel6A</div>
<div class="a t" style="left:501.00px;top:281.88px;width:32.30px;height:9.46px;line-height:9.46px;font-size:6.30px;text-align:center;color:#262626">-1.40</div>
<div class="a t g" style="left:443.60px;top:291.84px;height:9.46px;line-height:9.46px;font-size:6.00px;font-style:italic;color:#444444">POX08485</div>
<div class="a t" style="left:501.00px;top:291.34px;width:32.30px;height:9.46px;line-height:9.46px;font-size:6.30px;text-align:center;color:#262626">-1.39</div>
<div class="a t g" style="left:443.60px;top:301.30px;height:9.46px;line-height:9.46px;font-size:6.00px;font-style:italic;color:#444444">POX03711</div>
<div class="a t" style="left:501.00px;top:300.80px;width:32.30px;height:9.46px;line-height:9.46px;font-size:6.30px;text-align:center;color:#262626">-1.38</div>
<div class="a t g" style="left:443.60px;top:310.76px;height:9.46px;line-height:9.46px;font-size:6.00px;font-style:italic;color:#444444">POX01937</div>
<div class="a t" style="left:501.00px;top:310.26px;width:32.30px;height:9.46px;line-height:9.46px;font-size:6.30px;text-align:center;color:#262626">-1.36</div>
<div class="a t g" style="left:443.60px;top:320.22px;height:9.46px;line-height:9.46px;font-size:6.00px;font-style:italic;color:#444444">POX09137</div>
<div class="a t" style="left:501.00px;top:319.72px;width:32.30px;height:9.46px;line-height:9.46px;font-size:6.30px;text-align:center;color:#262626">-1.30</div>
<div class="a t g" style="left:443.60px;top:329.68px;height:9.46px;line-height:9.46px;font-size:6.00px;font-style:italic;color:#444444">POX05540</div>
<div class="a t" style="left:501.00px;top:329.18px;width:32.30px;height:9.46px;line-height:9.46px;font-size:6.30px;text-align:center;color:#262626">-1.21</div>
<div class="a t g" style="left:443.60px;top:339.14px;height:9.46px;line-height:9.46px;font-size:6.00px;font-style:italic;color:#444444">POX00063/xyn10A</div>
<div class="a t" style="left:501.00px;top:338.64px;width:32.30px;height:9.46px;line-height:9.46px;font-size:6.30px;text-align:center;color:#262626">-1.21</div>
<div class="a t g" style="left:443.60px;top:348.60px;height:9.46px;line-height:9.46px;font-size:6.00px;font-style:italic;color:#444444">POX02345</div>
<div class="a t" style="left:501.00px;top:348.10px;width:32.30px;height:9.46px;line-height:9.46px;font-size:6.30px;text-align:center;color:#262626">-1.18</div>
<div class="a t g" style="left:443.60px;top:358.06px;height:9.46px;line-height:9.46px;font-size:6.00px;font-style:italic;color:#444444">POX06147/cel5A</div>
<div class="a t" style="left:501.00px;top:357.56px;width:32.30px;height:9.46px;line-height:9.46px;font-size:6.30px;text-align:center;color:#262626">-1.15</div>
<div class="a t g" style="left:443.60px;top:367.52px;height:9.46px;line-height:9.46px;font-size:6.00px;font-style:italic;color:#444444">POX01896/cel5C</div>
<div class="a t" style="left:501.00px;top:367.02px;width:32.30px;height:9.46px;line-height:9.46px;font-size:6.30px;text-align:center;color:#262626">-1.12</div>
<div class="a t g" style="left:443.60px;top:376.98px;height:9.46px;line-height:9.46px;font-size:6.00px;font-style:italic;color:#444444">POX00759</div>
<div class="a t" style="left:501.00px;top:376.48px;width:32.30px;height:9.46px;line-height:9.46px;font-size:6.30px;text-align:center;color:#262626">-1.12</div>
<div class="a t g" style="left:443.60px;top:386.44px;height:9.46px;line-height:9.46px;font-size:6.00px;font-style:italic;color:#444444">POX03062</div>
<div class="a t" style="left:501.00px;top:385.94px;width:32.30px;height:9.46px;line-height:9.46px;font-size:6.30px;text-align:center;color:#262626">-1.06</div>
<div class="a t g" style="left:443.60px;top:395.90px;height:9.46px;line-height:9.46px;font-size:6.00px;font-style:italic;color:#444444">POX03430</div>
<div class="a t" style="left:501.00px;top:395.40px;width:32.30px;height:9.46px;line-height:9.46px;font-size:6.30px;text-align:center;color:#262626">1.57</div>
<div class="a t g" style="left:443.60px;top:405.36px;height:9.46px;line-height:9.46px;font-size:6.00px;font-style:italic;color:#444444">POX03420</div>
<div class="a t" style="left:501.00px;top:404.86px;width:32.30px;height:9.46px;line-height:9.46px;font-size:6.30px;text-align:center;color:#262626">1.82</div>
<div class="a t g" style="left:443.60px;top:414.82px;height:9.46px;line-height:9.46px;font-size:6.00px;font-style:italic;color:#444444">POX07963</div>
<div class="a t" style="left:501.00px;top:414.32px;width:32.30px;height:9.46px;line-height:9.46px;font-size:6.30px;text-align:center;color:#262626">2.03</div>
<div class="a t g" style="left:443.60px;top:424.28px;height:9.46px;line-height:9.46px;font-size:6.00px;font-style:italic;color:#444444">POX09154</div>
<div class="a t" style="left:501.00px;top:423.78px;width:32.30px;height:9.46px;line-height:9.46px;font-size:6.30px;text-align:center;color:#262626">2.14</div>
<div class="a t g" style="left:443.60px;top:433.74px;height:9.46px;line-height:9.46px;font-size:6.00px;font-style:italic;color:#444444">POX01225</div>
<div class="a t" style="left:501.00px;top:433.24px;width:32.30px;height:9.46px;line-height:9.46px;font-size:6.30px;text-align:center;color:#262626">2.80</div>
<div class="a t g" style="left:443.60px;top:443.20px;height:9.46px;line-height:9.46px;font-size:6.00px;font-style:italic;color:#444444">POX07890</div>
<div class="a t" style="left:501.00px;top:442.70px;width:32.30px;height:9.46px;line-height:9.46px;font-size:6.30px;text-align:center;color:#262626">3.99</div>
<div class="a t g" style="left:443.60px;top:452.66px;height:9.46px;line-height:9.46px;font-size:6.00px;font-style:italic;color:#444444">POX00923</div>
<div class="a t" style="left:501.00px;top:452.16px;width:32.30px;height:9.46px;line-height:9.46px;font-size:6.30px;text-align:center;color:#262626">4.61</div>
<div class="a t g" style="left:443.60px;top:462.12px;height:9.46px;line-height:9.46px;font-size:6.00px;font-style:italic;color:#444444">POX00760</div>
<div class="a t" style="left:501.00px;top:461.62px;width:32.30px;height:9.46px;line-height:9.46px;font-size:6.30px;text-align:center;color:#262626">6.22</div>
<div class="a t" style="left:59.70px;top:242.95px;font-size:6.20px;line-height:1;font-weight:bold;color:#111;letter-spacing:0.2px">Gene ID</div>
<div class="a t" style="left:100.10px;top:242.95px;font-size:6.20px;line-height:1;font-weight:bold;color:#111">Relative expression</div>
<div class="a" style="left:112.80px;top:250.00px;width:30.30px;height:10.53px;background:#F8696B"></div>
<div class="a" style="left:112.80px;top:259.93px;width:30.30px;height:10.53px;background:#E18875"></div>
<div class="a" style="left:112.80px;top:269.86px;width:30.30px;height:10.53px;background:#DF8A76"></div>
<div class="a" style="left:112.80px;top:279.79px;width:30.30px;height:10.53px;background:#DF8A76"></div>
<div class="a" style="left:112.80px;top:289.72px;width:30.30px;height:10.53px;background:#DA9078"></div>
<div class="a" style="left:112.80px;top:299.65px;width:30.30px;height:10.53px;background:#D6957A"></div>
<div class="a" style="left:112.80px;top:309.58px;width:30.30px;height:10.53px;background:#D3997B"></div>
<div class="a" style="left:112.80px;top:319.51px;width:30.30px;height:10.53px;background:#D19C7C"></div>
<div class="a" style="left:112.80px;top:329.44px;width:30.30px;height:10.53px;background:#C9A680"></div>
<div class="a" style="left:112.80px;top:339.37px;width:30.30px;height:10.53px;background:#C9A680"></div>
<div class="a" style="left:112.80px;top:349.30px;width:30.30px;height:10.53px;background:#C5AC82"></div>
<div class="a" style="left:112.80px;top:359.23px;width:30.30px;height:10.53px;background:#A1CB95"></div>
<div class="a" style="left:112.80px;top:369.16px;width:30.30px;height:10.53px;background:#A0CA96"></div>
<div class="a" style="left:112.80px;top:379.09px;width:30.30px;height:10.53px;background:#9EC998"></div>
<div class="a" style="left:112.80px;top:389.02px;width:30.30px;height:10.53px;background:#9DC899"></div>
<div class="a" style="left:112.80px;top:398.95px;width:30.30px;height:10.53px;background:#9BC69B"></div>
<div class="a" style="left:112.80px;top:408.88px;width:30.30px;height:10.53px;background:#94C2A1"></div>
<div class="a" style="left:112.80px;top:418.81px;width:30.30px;height:10.53px;background:#93C1A2"></div>
<div class="a" style="left:112.80px;top:428.74px;width:30.30px;height:10.53px;background:#90BFA5"></div>
<div class="a" style="left:112.80px;top:438.67px;width:30.30px;height:10.53px;background:#8DBDA7"></div>
<div class="a" style="left:112.80px;top:448.60px;width:30.30px;height:10.53px;background:#8DBDA8"></div>
<div class="a" style="left:112.80px;top:458.53px;width:30.30px;height:10.53px;background:#88BAAC"></div>
<div class="a" style="left:112.80px;top:468.46px;width:30.30px;height:10.53px;background:#7FB4B4"></div>
<div class="a" style="left:112.80px;top:478.39px;width:30.30px;height:10.53px;background:#75ACBE"></div>
<div class="a" style="left:112.80px;top:488.32px;width:30.30px;height:9.93px;background:#5B9BD5"></div>
<div class="a t g" style="left:59.40px;top:250.60px;height:9.93px;line-height:9.93px;font-size:6.40px;font-style:italic;color:#444444">POX00005</div>
<div class="a t" style="left:112.80px;top:250.60px;width:30.30px;height:9.93px;line-height:9.93px;font-size:6.30px;text-align:center;color:#262626">-3.54</div>
<div class="a t g" style="left:59.40px;top:260.53px;height:9.93px;line-height:9.93px;font-size:6.40px;font-style:italic;color:#444444">POX04276</div>
<div class="a t" style="left:112.80px;top:260.53px;width:30.30px;height:9.93px;line-height:9.93px;font-size:6.30px;text-align:center;color:#262626">-2.49</div>
<div class="a t g" style="left:59.40px;top:270.46px;height:9.93px;line-height:9.93px;font-size:6.40px;font-style:italic;color:#444444">POX09084</div>
<div class="a t" style="left:112.80px;top:270.46px;width:30.30px;height:9.93px;line-height:9.93px;font-size:6.30px;text-align:center;color:#262626">-2.42</div>
<div class="a t g" style="left:59.40px;top:280.39px;height:9.93px;line-height:9.93px;font-size:6.40px;font-style:italic;color:#444444">POX03255</div>
<div class="a t" style="left:112.80px;top:280.39px;width:30.30px;height:9.93px;line-height:9.93px;font-size:6.30px;text-align:center;color:#262626">-2.41</div>
<div class="a t g" style="left:59.40px;top:290.32px;height:9.93px;line-height:9.93px;font-size:6.40px;font-style:italic;color:#444444">PoxCdtD</div>
<div class="a t" style="left:112.80px;top:290.32px;width:30.30px;height:9.93px;line-height:9.93px;font-size:6.30px;text-align:center;color:#262626">-2.20</div>
<div class="a t g" style="left:59.40px;top:300.25px;height:9.93px;line-height:9.93px;font-size:6.40px;font-style:italic;color:#444444">POX03742</div>
<div class="a t" style="left:112.80px;top:300.25px;width:30.30px;height:9.93px;line-height:9.93px;font-size:6.30px;text-align:center;color:#262626">-2.03</div>
<div class="a t g" style="left:59.40px;top:310.18px;height:9.93px;line-height:9.93px;font-size:6.40px;font-style:italic;color:#444444">POX06051/CdtC</div>
<div class="a t" style="left:112.80px;top:310.18px;width:30.30px;height:9.93px;line-height:9.93px;font-size:6.30px;text-align:center;color:#262626">-1.89</div>
<div class="a t g" style="left:59.40px;top:320.11px;height:9.93px;line-height:9.93px;font-size:6.40px;font-style:italic;color:#444444">POX01317</div>
<div class="a t" style="left:112.80px;top:320.11px;width:30.30px;height:9.93px;line-height:9.93px;font-size:6.30px;text-align:center;color:#262626">-1.80</div>
<div class="a t g" style="left:59.40px;top:330.04px;height:9.93px;line-height:9.93px;font-size:6.40px;font-style:italic;color:#444444">POX01920</div>
<div class="a t" style="left:112.80px;top:330.04px;width:30.30px;height:9.93px;line-height:9.93px;font-size:6.30px;text-align:center;color:#262626">-1.45</div>
<div class="a t g" style="left:59.40px;top:339.97px;height:9.93px;line-height:9.93px;font-size:6.40px;font-style:italic;color:#444444">POX01201</div>
<div class="a t" style="left:112.80px;top:339.97px;width:30.30px;height:9.93px;line-height:9.93px;font-size:6.30px;text-align:center;color:#262626">-1.43</div>
<div class="a t g" style="left:59.40px;top:349.90px;height:9.93px;line-height:9.93px;font-size:6.40px;font-style:italic;color:#444444">POX01700</div>
<div class="a t" style="left:112.80px;top:349.90px;width:30.30px;height:9.93px;line-height:9.93px;font-size:6.30px;text-align:center;color:#262626">-1.24</div>
<div class="a t g" style="left:59.40px;top:359.83px;height:9.93px;line-height:9.93px;font-size:6.40px;font-style:italic;color:#444444">POX06426</div>
<div class="a t" style="left:112.80px;top:359.83px;width:30.30px;height:9.93px;line-height:9.93px;font-size:6.30px;text-align:center;color:#262626">1.11</div>
<div class="a t g" style="left:59.40px;top:369.76px;height:9.93px;line-height:9.93px;font-size:6.40px;font-style:italic;color:#444444">POX08194</div>
<div class="a t" style="left:112.80px;top:369.76px;width:30.30px;height:9.93px;line-height:9.93px;font-size:6.30px;text-align:center;color:#262626">1.28</div>
<div class="a t g" style="left:59.40px;top:379.69px;height:9.93px;line-height:9.93px;font-size:6.40px;font-style:italic;color:#444444">POX06604</div>
<div class="a t" style="left:112.80px;top:379.69px;width:30.30px;height:9.93px;line-height:9.93px;font-size:6.30px;text-align:center;color:#262626">1.59</div>
<div class="a t g" style="left:59.40px;top:389.62px;height:9.93px;line-height:9.93px;font-size:6.40px;font-style:italic;color:#444444">POX04529</div>
<div class="a t" style="left:112.80px;top:389.62px;width:30.30px;height:9.93px;line-height:9.93px;font-size:6.30px;text-align:center;color:#262626">1.68</div>
<div class="a t g" style="left:59.40px;top:399.55px;height:9.93px;line-height:9.93px;font-size:6.40px;font-style:italic;color:#444444">POX04533</div>
<div class="a t" style="left:112.80px;top:399.55px;width:30.30px;height:9.93px;line-height:9.93px;font-size:6.30px;text-align:center;color:#262626">2.03</div>
<div class="a t g" style="left:59.40px;top:409.48px;height:9.93px;line-height:9.93px;font-size:6.40px;font-style:italic;color:#444444">POX07451</div>
<div class="a t" style="left:112.80px;top:409.48px;width:30.30px;height:9.93px;line-height:9.93px;font-size:6.30px;text-align:center;color:#262626">2.98</div>
<div class="a t g" style="left:59.40px;top:419.41px;height:9.93px;line-height:9.93px;font-size:6.40px;font-style:italic;color:#444444">POX04369</div>
<div class="a t" style="left:112.80px;top:419.41px;width:30.30px;height:9.93px;line-height:9.93px;font-size:6.30px;text-align:center;color:#262626">3.23</div>
<div class="a t g" style="left:59.40px;top:429.34px;height:9.93px;line-height:9.93px;font-size:6.40px;font-style:italic;color:#444444">POX01649</div>
<div class="a t" style="left:112.80px;top:429.34px;width:30.30px;height:9.93px;line-height:9.93px;font-size:6.30px;text-align:center;color:#262626">3.65</div>
<div class="a t g" style="left:59.40px;top:439.27px;height:9.93px;line-height:9.93px;font-size:6.40px;font-style:italic;color:#444444">POX07576/RCO-3</div>
<div class="a t" style="left:112.80px;top:439.27px;width:30.30px;height:9.93px;line-height:9.93px;font-size:6.30px;text-align:center;color:#262626">3.99</div>
<div class="a t g" style="left:59.40px;top:449.20px;height:9.93px;line-height:9.93px;font-size:6.40px;font-style:italic;color:#444444">POX09471</div>
<div class="a t" style="left:112.80px;top:449.20px;width:30.30px;height:9.93px;line-height:9.93px;font-size:6.30px;text-align:center;color:#262626">4.09</div>
<div class="a t g" style="left:59.40px;top:459.13px;height:9.93px;line-height:9.93px;font-size:6.40px;font-style:italic;color:#444444">POX07227</div>
<div class="a t" style="left:112.80px;top:459.13px;width:30.30px;height:9.93px;line-height:9.93px;font-size:6.30px;text-align:center;color:#262626">4.79</div>
<div class="a t g" style="left:59.40px;top:469.06px;height:9.93px;line-height:9.93px;font-size:6.40px;font-style:italic;color:#444444">POX08656</div>
<div class="a t" style="left:112.80px;top:469.06px;width:30.30px;height:9.93px;line-height:9.93px;font-size:6.30px;text-align:center;color:#262626">6.04</div>
<div class="a t g" style="left:59.40px;top:478.99px;height:9.93px;line-height:9.93px;font-size:6.40px;font-style:italic;color:#444444">POX01566</div>
<div class="a t" style="left:112.80px;top:478.99px;width:30.30px;height:9.93px;line-height:9.93px;font-size:6.30px;text-align:center;color:#262626">7.59</div>
<div class="a t g" style="left:59.40px;top:488.92px;height:9.93px;line-height:9.93px;font-size:6.40px;font-style:italic;color:#444444">POX00960</div>
<div class="a t" style="left:112.80px;top:488.92px;width:30.30px;height:9.93px;line-height:9.93px;font-size:6.30px;text-align:center;color:#262626">11.30</div>
</body></html>
